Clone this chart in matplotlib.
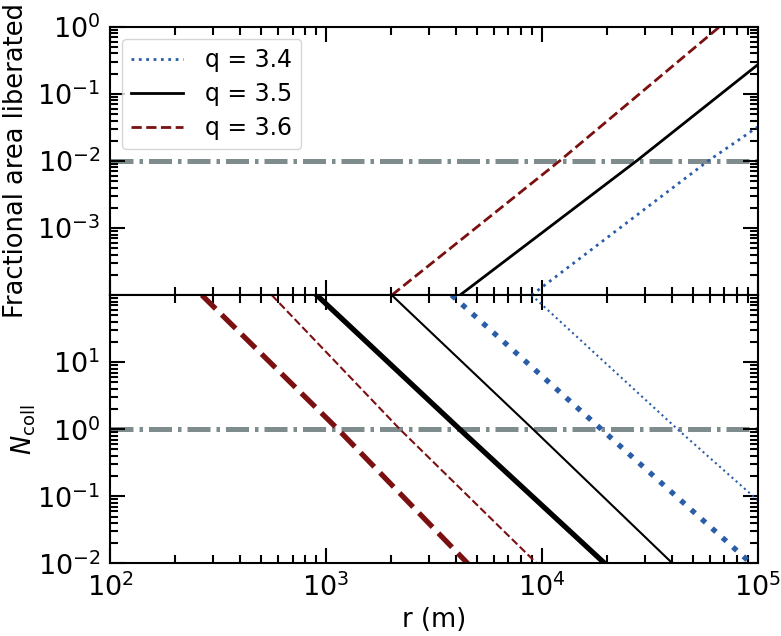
import numpy as np
import matplotlib
matplotlib.use("Agg")
import matplotlib.pyplot as plt

# values (r in m)
q_labels = ['q = 3.4', 'q = 3.5', 'q = 3.6']

# top panel: fractional area liberated
r_area_34 = [8970, 59000, 1e5]
area_34 = [1e-4, 1e-2, 0.032]
r_area_35 = [4180, 27500, 1e5]
area_35 = [1e-4, 1e-2, 0.27]
r_area_36 = [2020, 12100, 66700]
area_36 = [1e-4, 1e-2, 1.0]

# bottom panel: N_coll, thick and thin curves for each q
r_ncoll_34_thick = [3820, 18900, 93500]
ncoll_34_thick = [100, 1, 0.01]
r_ncoll_34_thin = [8970, 42600, 1e5]
ncoll_34_thin = [100, 1, 0.088]
r_ncoll_35_thick = [906, 4170, 19600]
ncoll_35_thick = [100, 1, 0.01]
r_ncoll_35_thin = [2018, 9120, 40400]
ncoll_35_thin = [100, 1, 0.01]
r_ncoll_36_thick = [266, 1137, 4540]
ncoll_36_thick = [100, 1, 0.01]
r_ncoll_36_thin = [561, 2203, 9490]
ncoll_36_thin = [100, 1, 0.01]

area_limit = 1e-2
ncoll_limit = 1.0

blue = '#2a5da8'
red = '#7b1010'
grey = '#7f8c8d'
dashdot = (0, (4.6, 1.2, 0.7, 1.2))

plt.rcParams['font.size'] = 18.5

fig = plt.figure(figsize=(7.81, 6.36), dpi=100)
fig.subplots_adjust(left=0.141, right=0.970, top=0.958, bottom=0.114, hspace=0)
ax1 = fig.add_subplot(2, 1, 1)
ax2 = fig.add_subplot(2, 1, 2, sharex=ax1)

ax1.plot(r_area_34, area_34, color=blue, ls=':', lw=2, label=q_labels[0])
ax1.plot(r_area_35, area_35, color='k', ls='-', lw=2, label=q_labels[1])
ax1.plot(r_area_36, area_36, color=red, ls='--', lw=2, label=q_labels[2])
ax1.axhline(area_limit, color=grey, ls=dashdot, lw=3.6, zorder=1)

ax2.plot(r_ncoll_34_thick, ncoll_34_thick, color=blue, ls=':', lw=3.8)
ax2.plot(r_ncoll_34_thin, ncoll_34_thin, color=blue, ls=':', lw=1.5)
ax2.plot(r_ncoll_35_thick, ncoll_35_thick, color='k', ls='-', lw=3.8)
ax2.plot(r_ncoll_35_thin, ncoll_35_thin, color='k', ls='-', lw=1.5)
ax2.plot(r_ncoll_36_thick, ncoll_36_thick, color=red, ls='--', lw=3.8)
ax2.plot(r_ncoll_36_thin, ncoll_36_thin, color=red, ls='--', lw=1.5)
ax2.axhline(ncoll_limit, color=grey, ls=dashdot, lw=3.6, zorder=1)

for ax in (ax1, ax2):
    ax.set_xscale('log')
    ax.set_yscale('log')
    for s in ax.spines.values():
        s.set_linewidth(1.5)
    ax.tick_params(which='both', direction='in', top=True, right=True, width=1.5)
    ax.tick_params(which='major', length=11, pad=7, labelsize=19.5)
    ax.tick_params(which='minor', length=5.5)

ax1.set_xlim(1e2, 1e5)
ax1.set_ylim(1e-4, 1e0)
ax1.set_yticks([1e-3, 1e-2, 1e-1, 1e0])
ax1.tick_params(labelbottom=False)
ax2.set_ylim(1e-2, 1e2)
ax2.set_yticks([1e-2, 1e-1, 1e0, 1e1])

ax1.set_ylabel('Fractional area liberated')
ax2.set_ylabel(r'$N_{\rm coll}$')
ax2.set_xlabel('r (m)')
ax1.yaxis.set_label_coords(-0.125, 0.5)
ax2.yaxis.set_label_coords(-0.112, 0.5)

ax1.legend(loc='upper left', fontsize=17, handlelength=2.2, handletextpad=0.9,
           labelspacing=0.42)

fig.savefig('out.png', dpi=100)
